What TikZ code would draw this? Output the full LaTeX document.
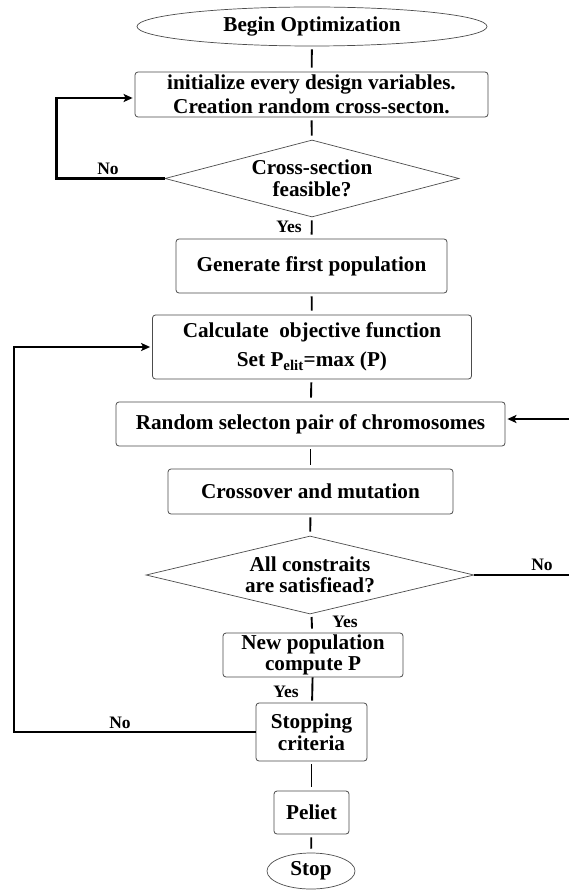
\documentclass[tikz,border=0pt]{standalone}
\usepackage{fontspec}
\setmainfont{Liberation Serif}
\usetikzlibrary{shapes.geometric,arrows.meta}
\newcommand{\boxfont}{\fontsize{21.2}{21.5}\selectfont\bfseries}
\newcommand{\labfont}{\fontsize{17.5}{18}\selectfont\bfseries}
\begin{document}
\begin{tikzpicture}[x=1pt,y=-1pt,
  box/.style={draw=black!70, line width=0.8pt, rounded corners=3pt, inner sep=0pt, align=center, font=\boxfont},
  dia/.style={draw=black!70, line width=0.7pt, diamond, inner sep=0pt, align=center, font=\boxfont},
  ell/.style={draw=black!70, line width=0.7pt, ellipse, inner sep=0pt, align=center, font=\boxfont},
  tick/.style={line width=1.9pt, shorten <=3pt, shorten >=4pt},
  fb/.style={line width=2.5pt, -{Stealth[length=9pt,width=8pt,inset=2pt]}, shorten >=2pt},
  lab/.style={font=\labfont, inner sep=0pt}]
\useasboundingbox (0,0) rectangle (569,890);
\clip (0,0) rectangle (569,890);
\fill[white] (0,0) rectangle (569,890);

\node[ell, minimum width=350pt, minimum height=39pt] (begin) at (312,26.5) {Begin Optimization};
\node[box, minimum width=353pt, minimum height=45pt] (init) at (311.5,94.5) {initialize every design variables.\\[3pt]Creation random cross-secton.};
\node[dia, shape aspect=3.9, minimum width=294pt, minimum height=77pt] (d1) at (312,178.5) {Cross-section\\feasible?};
\node[box, minimum width=271pt, minimum height=54pt] (gen) at (311.5,266) {Generate first population};
\node[box, minimum width=319pt, minimum height=64pt] (calc) at (312,347) {Calculate~ objective function\\[8pt]Set P\textsubscript{elit}=max (P)};
\node[box, minimum width=389pt, minimum height=44pt] (rand) at (310.5,424) {Random selecton pair of chromosomes};
\node[box, minimum width=285pt, minimum height=45pt] (cross) at (310.5,491.5) {Crossover and mutation};
\node[dia, shape aspect=4.3, minimum width=328pt, minimum height=78pt] (d2) at (310,575) {All constraits\\are satisfiead?};
\node[box, minimum width=180pt, minimum height=44pt] (newp) at (313,655) {New population\\compute P};
\node[box, minimum width=111pt, minimum height=58pt] (stopc) at (311.5,732) {Stopping\\criteria};
\node[box, minimum width=75pt, minimum height=43pt] (pel) at (311.5,812.5) {Peliet};
\node[ell, minimum width=88pt, minimum height=36pt] (stop) at (311,871) {Stop};

\draw[tick] (begin) -- (init);
\draw[tick] (init) -- (d1);
\draw[tick] (d1) -- (gen);
\draw[tick] (gen) -- (calc);
\draw[tick] (calc) -- (rand);
\draw[tick] (rand) -- (cross);
\draw[tick] (cross) -- (d2);
\draw[tick] (d2) -- (newp);
\draw[tick, shorten <=0pt, shorten >=2pt] (newp) -- (stopc);
\draw[tick] (stopc) -- (pel);
\draw[tick] (pel) -- (stop);

\coordinate (l1) at (56.5,178.5);
\coordinate (l2) at (14,732);
\coordinate (r1) at (580,575);
\draw[fb] (d1.west) -- (l1) |- ([yshift=-3.5pt]init.west);
\draw[fb] (stopc.west) -- (l2) |- (calc.west);
\draw[fb] (d2.east) -- (r1) |- ([yshift=5pt]rand.east);

\node[lab] (no1) at (108,169) {No};
\node[lab] (yes1) at (289,227) {Yes};
\node[lab] (no2) at (542,565) {No};
\node[lab] (yes2) at (345,622) {Yes};
\node[lab] (yes3) at (286,692) {Yes};
\node[lab] (no3) at (120,723) {No};
\end{tikzpicture}
\end{document}
